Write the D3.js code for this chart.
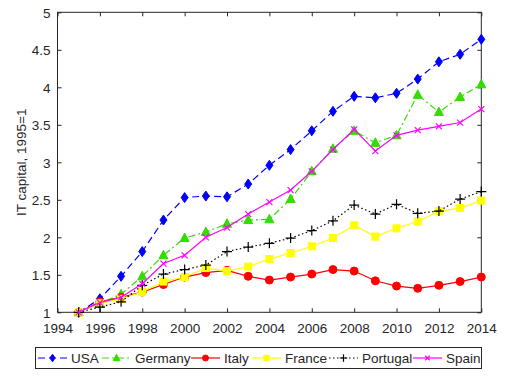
<!DOCTYPE html>
<html><head><meta charset="utf-8">
<script src="https://cdn.jsdelivr.net/npm/d3@7"></script>
<style>body{margin:0;background:#fff;} svg{display:block;font-family:"Liberation Sans",Arial,sans-serif;}</style>
</head><body>
<svg id="c" width="506" height="383"></svg>
<script>
const years = d3.range(1995, 2015);
const usa      = [1.00,1.18,1.48,1.81,2.23,2.53,2.55,2.54,2.71,2.96,3.17,3.42,3.68,3.88,3.86,3.92,4.11,4.34,4.44,4.64];
const germany  = [1.00,1.12,1.24,1.48,1.76,1.99,2.07,2.18,2.23,2.24,2.51,2.88,3.18,3.42,3.26,3.36,3.90,3.67,3.87,4.04];
const italy    = [1.00,1.14,1.20,1.27,1.37,1.47,1.53,1.56,1.48,1.43,1.47,1.51,1.57,1.55,1.42,1.35,1.32,1.36,1.41,1.47];
const france   = [1.00,1.12,1.18,1.27,1.41,1.47,1.59,1.55,1.61,1.71,1.79,1.88,1.99,2.16,2.01,2.12,2.21,2.35,2.39,2.49];
const portugal = [1.00,1.07,1.14,1.36,1.51,1.57,1.63,1.81,1.87,1.92,1.99,2.09,2.22,2.43,2.31,2.44,2.32,2.35,2.51,2.61];
const spain    = [1.00,1.13,1.20,1.38,1.65,1.76,2.00,2.13,2.31,2.47,2.63,2.88,3.17,3.44,3.15,3.36,3.43,3.48,3.53,3.71];
const xTicks = d3.range(1994, 2015, 2);
const yTicks = [1,1.5,2,2.5,3,3.5,4,4.5,5];
const yLabel = "IT capital, 1995=1";

const series = [
  {name:"USA", values:usa, color:"#0000ff", dash:"7,4", marker:"diamond"},
  {name:"Germany", values:germany, color:"#33dd00", dash:"7,3,2,3", marker:"triangle"},
  {name:"Italy", values:italy, color:"#ff0000", dash:null, marker:"circle"},
  {name:"France", values:france, color:"#ffff00", dash:null, marker:"square"},
  {name:"Portugal", values:portugal, color:"#000000", dash:"1.5,2.5", marker:"plus"},
  {name:"Spain", values:spain, color:"#ff00ff", dash:null, marker:"x"}
];

const svg = d3.select("#c");
const L=57.5, R=481.3, T=12.3, B=312.3;
const x = d3.scaleLinear().domain([1994,2014]).range([L,R]);
const y = d3.scaleLinear().domain([1,5]).range([B,T]);
const axisColor="#262626";

const g = svg.append("g");
g.append("rect").attr("x",L).attr("y",T).attr("width",R-L).attr("height",B-T)
  .attr("fill","none").attr("stroke",axisColor).attr("stroke-width",1);

const xa = g.append("g").attr("transform",`translate(0,${B})`)
  .call(d3.axisBottom(x).tickValues(xTicks).tickFormat(d3.format("d")).tickSizeInner(-4).tickSizeOuter(0).tickPadding(11));
const xt = g.append("g").attr("transform",`translate(0,${T})`)
  .call(d3.axisTop(x).tickValues(xTicks).tickFormat("").tickSizeInner(-4).tickSizeOuter(0));
const ya = g.append("g").attr("transform",`translate(${L},0)`)
  .call(d3.axisLeft(y).tickValues(yTicks).tickFormat(d3.format("")).tickSizeInner(-4).tickSizeOuter(0).tickPadding(7));
const yr = g.append("g").attr("transform",`translate(${R},0)`)
  .call(d3.axisRight(y).tickValues(yTicks).tickFormat("").tickSizeInner(-4).tickSizeOuter(0));
[xa,xt,ya,yr].forEach(a=>{
  a.select(".domain").remove();
  a.selectAll("line").attr("stroke",axisColor);
  a.selectAll("text").attr("fill",axisColor).style("font-size","13.5px");
});
ya.selectAll("text").attr("dy","0.35em");

svg.append("text").attr("transform",`translate(26,${(T+B)/2}) rotate(-90)`)
  .attr("text-anchor","middle").attr("fill",axisColor).style("font-size","13.5px").text(yLabel);

function drawMarker(sel, type, color, cx, cy, k){
  k = k || 1;
  if(type==="diamond"){
    sel.append("path").attr("d",`M${cx},${cy-5*k}L${cx+3.5*k},${cy}L${cx},${cy+5*k}L${cx-3.5*k},${cy}Z`).attr("fill",color).attr("stroke",color);
  } else if(type==="triangle"){
    sel.append("path").attr("d",`M${cx},${cy-5*k}L${cx+4.5*k},${cy+3.5*k}L${cx-4.5*k},${cy+3.5*k}Z`).attr("fill",color).attr("stroke",color);
  } else if(type==="circle"){
    sel.append("circle").attr("cx",cx).attr("cy",cy).attr("r",4*k).attr("fill",color).attr("stroke",color);
  } else if(type==="square"){
    sel.append("rect").attr("x",cx-3.5*k).attr("y",cy-3.5*k).attr("width",7*k).attr("height",7*k).attr("fill",color).attr("stroke",color);
  } else if(type==="plus"){
    sel.append("path").attr("d",`M${cx-5*k},${cy}H${cx+5*k}M${cx},${cy-5*k}V${cy+5*k}`).attr("stroke",color).attr("stroke-width",1.2);
  } else if(type==="x"){
    sel.append("path").attr("d",`M${cx-3*k},${cy-3*k}L${cx+3*k},${cy+3*k}M${cx-3*k},${cy+3*k}L${cx+3*k},${cy-3*k}`).attr("stroke",color).attr("stroke-width",1.2);
  }
}

const line = d3.line().x((d,i)=>x(years[i])).y(d=>y(d));
series.forEach(s=>{
  const sg = svg.append("g");
  sg.append("path").datum(s.values).attr("d",line).attr("fill","none")
    .attr("stroke",s.color).attr("stroke-width",1.2)
    .attr("stroke-dasharray",s.dash);
  s.values.forEach((v,i)=>drawMarker(sg,s.marker,s.color,x(years[i]),y(v)));
});

// legend
const lg = svg.append("g");
lg.append("rect").attr("x",35.5).attr("y",347.5).attr("width",446).attr("height",21)
  .attr("fill","#fff").attr("stroke",axisColor).attr("stroke-width",1);
const legX = [38, 102, 191, 252, 329, 413];
series.forEach((s,i)=>{
  const x0 = legX[i], cy = 358;
  lg.append("line").attr("x1",x0).attr("x2",x0+29).attr("y1",cy).attr("y2",cy)
    .attr("stroke",s.color).attr("stroke-width",1.2).attr("stroke-dasharray",s.dash);
  drawMarker(lg,s.marker,s.color,x0+14.5,cy,0.75);
  lg.append("text").attr("x",x0+33).attr("y",cy+5).attr("fill",axisColor)
    .style("font-size","13.5px").text(s.name);
});
</script>
</body></html>
